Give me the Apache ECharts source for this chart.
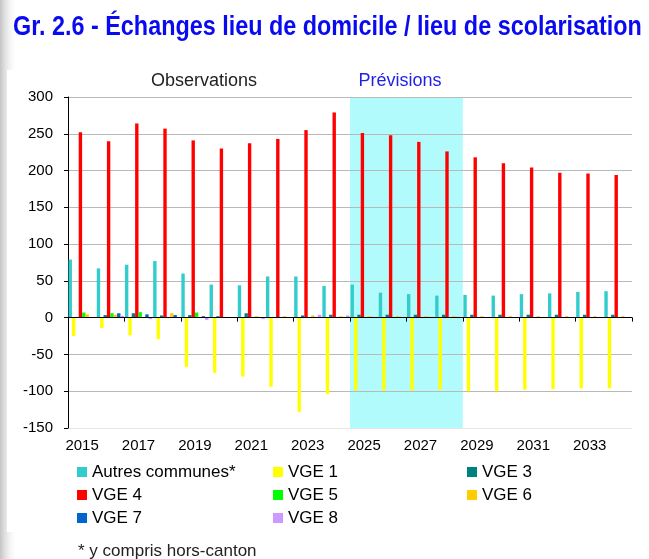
<!DOCTYPE html>
<html>
<head>
<meta charset="utf-8">
<script src="https://cdn.jsdelivr.net/npm/echarts@6/dist/echarts.min.js"></script>
<style>
html, body { margin: 0; padding: 0; background: #fff; }
#main { width: 649px; height: 559px; }
</style>
</head>
<body>
<div id="main"></div>
<script>
var years = ['2015','2016','2017','2018','2019','2020','2021','2022','2023','2024',
             '2025','2026','2027','2028','2029','2030','2031','2032','2033','2034'];
var autres = [79, 67, 72, 77, 60, 45, 44, 56, 56, 43, 45, 34, 32, 30, 31, 30, 32, 33, 35, 36];
var vge1 = [-25, -14, -24, -29, -67, -75, -80, -94, -128, -104, -99, -99, -99, -98, -100, -100, -98, -97, -96, -96];
var vge3 = [1, 3.5, 6, 3, 3.5, 2, 6, 1, 3, 4, 4, 4, 4, 4, 4, 4, 4, 4, 4, 4];
var vge4 = [252, 240, 264, 257, 241, 230, 237, 243, 255, 279, 251, 248, 239, 226, 218, 210, 204, 197, 196, 194];
var vge5 = [7, 6, 7.5, 0, 7, 1, 1, 0, 0.5, 0.5, 0.5, 0.5, 0.5, 0.5, 0.5, 0.5, 0.5, 0.5, 0.5, 0.5];
var vge6 = [4.5, 4, 0, 6, 1, 1, 2, 2, 3, 2, 2, 2, 2, 2, 2, 2, 2, 2, 2, 2];
var vge7 = [0, 6, 4.5, 3.5, 2, 0.5, 1, 0.5, 1, 1, 1, 1, 1, 1, 0.5, 0.5, 0.5, 0.5, 0.5, 0.5];
var vge8 = [0, 2.5, -2, 0, -3, 0.5, -2, 0.5, 4, 3, 1, 1, 1, 1, 1, 1, 1, 1, 1, 1];
var previsionStart = '2025';
var previsionEnd = '2028';

var font = 'Liberation Sans, Arial, sans-serif';
var myChart = echarts.init(document.getElementById('main'));

function bar(name, color, data) {
    return {
        name: name,
        type: 'bar',
        data: data,
        barGap: '0%',
        barCategoryGap: '4%',
        itemStyle: { color: color },
        emphasis: { disabled: true }
    };
}

var series = [
    bar('Autres communes*', '#33cccc', autres),
    bar('VGE 1', '#ffff00', vge1),
    bar('VGE 3', '#008080', vge3),
    bar('VGE 4', '#ff0000', vge4),
    bar('VGE 5', '#00ff00', vge5),
    bar('VGE 6', '#ffcc00', vge6),
    bar('VGE 7', '#0066cc', vge7),
    bar('VGE 8', '#cc99ff', vge8)
];
series[0].markArea = {
    silent: true,
    z: 0,
    itemStyle: { color: '#b2fbfc' },
    data: [[{ xAxis: previsionStart }, { xAxis: previsionEnd }]]
};

function legendCol(left, names) {
    return {
        orient: 'vertical',
        left: left,
        top: 463,
        padding: 0,
        itemWidth: 10,
        itemHeight: 10,
        itemGap: 5,
        icon: 'rect',
        selectedMode: false,
        textStyle: { fontFamily: font, fontSize: 17, color: '#000', lineHeight: 18 },
        data: names
    };
}

var gridColors = ['#e6e6e6', '#b9b9b9', '#b9b9b9', '#b9b9b9', '#b9b9b9',
                  '#b9b9b9', '#b9b9b9', '#b9b9b9', '#b9b9b9', '#b9b9b9'];

var option = {
    animation: false,
    backgroundColor: '#fff',
    grid: { left: 68, right: 17, top: 97, bottom: 131, outerBoundsMode: 'none' },
    legend: [
        legendCol(77, ['Autres communes*', 'VGE 4', 'VGE 7']),
        legendCol(273, ['VGE 1', 'VGE 5', 'VGE 8']),
        legendCol(467, ['VGE 3', 'VGE 6'])
    ],
    xAxis: [
        {
            type: 'category',
            data: years,
            position: 'bottom',
            axisLine: { show: false, onZero: false },
            axisTick: { show: false },
            axisLabel: { interval: 1, fontFamily: font, fontSize: 15, color: '#000', margin: 10 },
            splitLine: { show: false }
        },
        {
            type: 'category',
            data: years,
            position: 'bottom',
            z: 5,
            axisLine: { show: true, onZero: true, lineStyle: { color: '#000', width: 1 } },
            axisTick: { show: true, length: 4, lineStyle: { color: '#000' } },
            axisLabel: { show: false },
            splitLine: { show: false }
        }
    ],
    yAxis: {
        type: 'value',
        min: -150,
        max: 300,
        interval: 50,
        z: 1,
        axisLine: { show: true, lineStyle: { color: '#000' } },
        axisTick: { show: true, length: 4, lineStyle: { color: '#000' } },
        axisLabel: { fontFamily: font, fontSize: 15, color: '#000', margin: 15 },
        splitLine: { show: true, lineStyle: { color: gridColors, width: 1.2 } }
    },
    graphic: [
        {
            type: 'rect', z: -10, silent: true,
            shape: { x: 0, y: 0, width: 18, height: 559 },
            style: { fill: new echarts.graphic.LinearGradient(0, 0, 1, 0, [
                { offset: 0, color: '#c4c4c4' }, { offset: 1, color: 'rgba(255,255,255,0)' }]) }
        },
        {
            type: 'rect', z: -9, silent: true,
            shape: { x: 7, y: 70, width: 642, height: 462 },
            style: { fill: '#fff' }
        },
        {
            type: 'text', x: 13, y: 27, scaleX: 0.835,
            style: {
                text: 'Gr. 2.6 - Échanges lieu de domicile / lieu de scolarisation',
                font: 'bold 28px Liberation Sans, Arial, sans-serif',
                fill: '#0a0af0', align: 'left', verticalAlign: 'middle'
            }
        },
        {
            type: 'text', x: 204, y: 81,
            style: { text: 'Observations', font: '18px Liberation Sans, Arial, sans-serif',
                     fill: '#222', align: 'center', verticalAlign: 'middle' }
        },
        {
            type: 'text', x: 400, y: 81,
            style: { text: 'Prévisions', font: '18px Liberation Sans, Arial, sans-serif',
                     fill: '#1f1fe6', align: 'center', verticalAlign: 'middle' }
        },
        {
            type: 'text', x: 78, y: 551,
            style: { text: '* y compris hors-canton', font: '17px Liberation Sans, Arial, sans-serif',
                     fill: '#222', align: 'left', verticalAlign: 'middle' }
        }
    ],
    series: series
};
myChart.setOption(option);
</script>
</body>
</html>
